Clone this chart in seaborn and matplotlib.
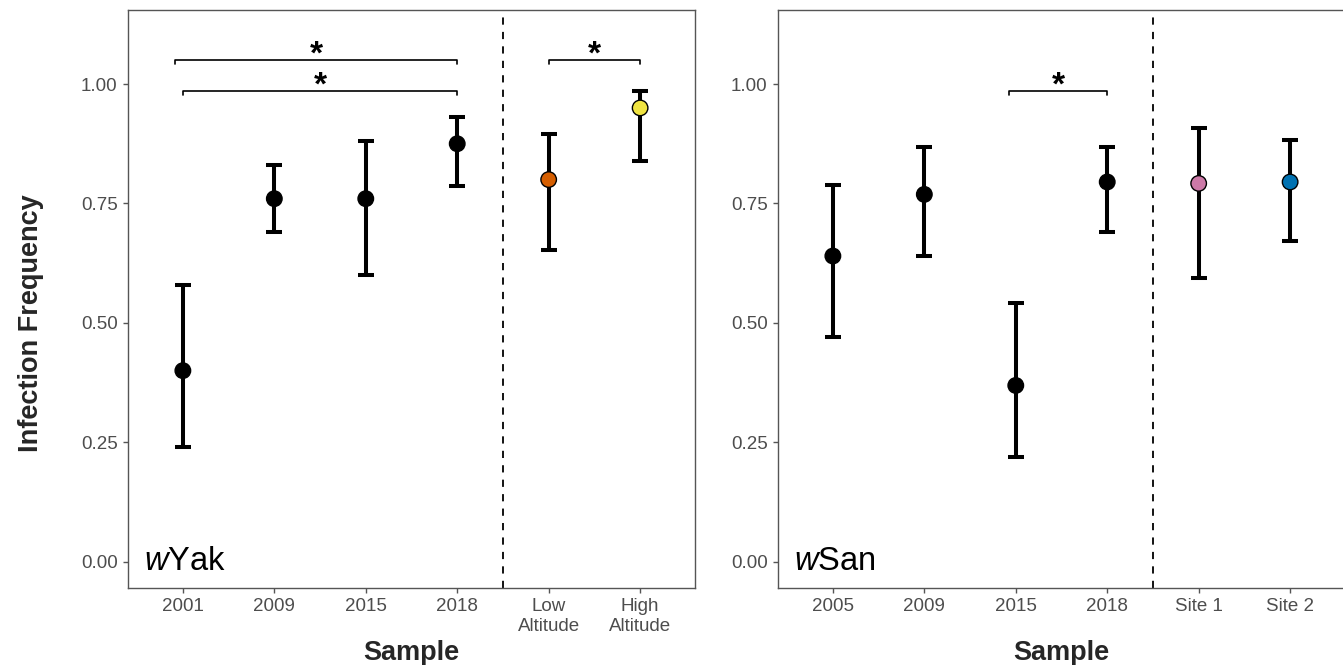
import matplotlib
matplotlib.use('Agg')
import matplotlib.pyplot as plt
import seaborn as sns
import pandas as pd

# wYak panel
yak_samples = ['2001', '2009', '2015', '2018', 'Low\nAltitude', 'High\nAltitude']
yak_freq = [0.40, 0.76, 0.76, 0.875, 0.80, 0.95]
yak_lo = [0.24, 0.69, 0.60, 0.787, 0.652, 0.838]
yak_hi = [0.58, 0.83, 0.88, 0.932, 0.895, 0.986]
yak_colors = ['black', 'black', 'black', 'black', '#D55E00', '#F0E442']
# significance brackets: (start, end, height)
yak_brackets = [(-0.09, 3, 1.05), (0, 3, 0.985), (4, 5, 1.05)]

# wSan panel
san_samples = ['2005', '2009', '2015', '2018', 'Site 1', 'Site 2']
san_freq = [0.64, 0.769, 0.369, 0.795, 0.792, 0.795]
san_lo = [0.47, 0.64, 0.22, 0.691, 0.595, 0.671]
san_hi = [0.789, 0.869, 0.541, 0.869, 0.908, 0.883]
san_colors = ['black', 'black', 'black', 'black', '#CC79A7', '#0072B2']
san_brackets = [(1.93, 3, 0.985)]

sns.set_theme(style='white')
plt.rcParams['font.family'] = ['Liberation Sans', 'DejaVu Sans']
plt.rcParams['mathtext.fontset'] = 'custom'
plt.rcParams['mathtext.it'] = 'Liberation Sans:italic'
plt.rcParams['mathtext.rm'] = 'Liberation Sans'

fig = plt.figure(figsize=(13.43, 6.65), dpi=100)
ax1 = fig.add_axes([128 / 1343, 1 - 588 / 665, 567 / 1343, 578 / 665])
ax2 = fig.add_axes([778 / 1343, 1 - 588 / 665, 567 / 1343, 578 / 665])


def draw_panel(ax, samples, freq, lo, hi, colors, brackets, label, ylabel):
    df = pd.DataFrame({'sample': samples, 'freq': freq, 'lo': lo, 'hi': hi})
    err = [df['freq'] - df['lo'], df['hi'] - df['freq']]
    ax.errorbar(df['sample'], df['freq'], yerr=err, fmt='none', ecolor='black',
                elinewidth=2.9, capsize=6, capthick=2.9, zorder=2)
    sns.scatterplot(data=df, x='sample', y='freq', hue='sample',
                    palette=dict(zip(samples, colors)), s=125,
                    edgecolor='black', linewidth=1, legend=False, zorder=3, ax=ax)
    ax.axvline(3.5, color='black', linestyle=(0, (4, 4)), linewidth=1.3)
    for x0, x1, h in brackets:
        ax.plot([x0, x0, x1, x1], [h - 0.008, h, h, h - 0.008],
                color='black', linewidth=1.2)
        ax.text((x0 + x1) / 2, h - 0.022, '*', ha='center', va='bottom',
                fontsize=24, fontweight='bold', color='black')
    ax.text(-0.43, 0.0, label, ha='left', va='center', fontsize=23.5, color='black')
    ax.set_xlim(-0.6, 5.6)
    ax.set_ylim(-0.055, 1.155)
    ax.set_yticks([0, 0.25, 0.5, 0.75, 1.0])
    ax.set_yticklabels(['0.00', '0.25', '0.50', '0.75', '1.00'])
    ax.tick_params(axis='both', labelsize=13.5, labelcolor='#4D4D4D', color='#555555',
                   length=3.5, width=1, direction='out', left=True, bottom=True, pad=4)
    for sp in ax.spines.values():
        sp.set_color('#555555')
        sp.set_linewidth(1.0)
    ax.set_xlabel('Sample', fontsize=19.5, fontweight='bold')
    ax.xaxis.set_label_coords(0.5, -0.09)
    ax.set_ylabel(ylabel, fontsize=19.5, fontweight='bold')
    ax.yaxis.set_label_coords(-0.148, 0.458)
    ax.grid(False)


draw_panel(ax1, yak_samples, yak_freq, yak_lo, yak_hi, yak_colors, yak_brackets,
           r'$\it{w}$Yak', 'Infection Frequency')
draw_panel(ax2, san_samples, san_freq, san_lo, san_hi, san_colors, san_brackets,
           r'$\it{w}$San', '')

fig.savefig('out.png', dpi=100)
